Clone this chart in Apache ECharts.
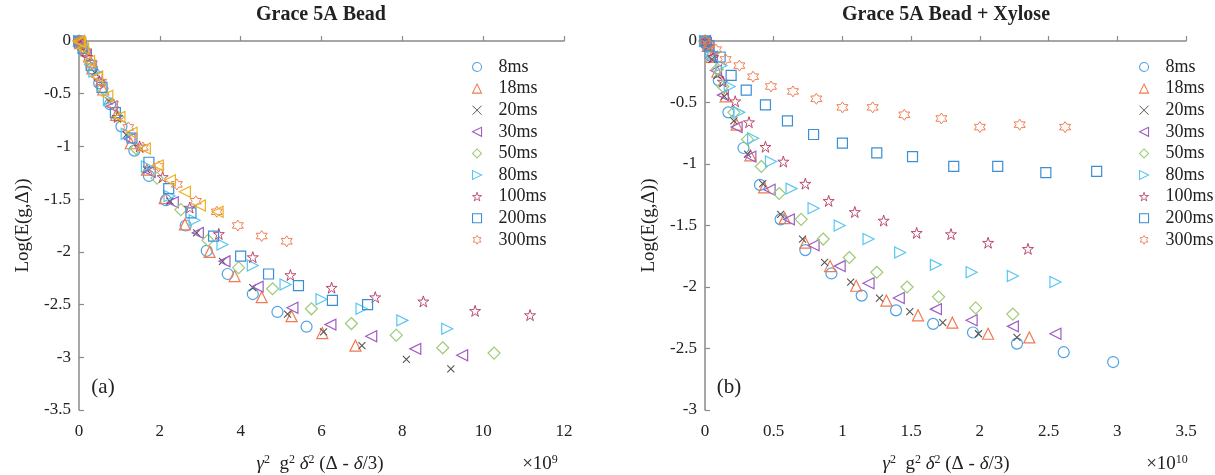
<!DOCTYPE html>
<html><head><meta charset="utf-8">
<script src="https://cdn.jsdelivr.net/npm/echarts@6/dist/echarts.min.js"></script>
<style>html,body{margin:0;padding:0;background:#fff}#c{width:1215px;height:475px}</style>
</head><body><div id="c"></div>
<script>
// ---- DATA (left: x in units of 1e9, right: x in units of 1e10) ----
const seriesNames = ['8ms','18ms','20ms','30ms','50ms','80ms','100ms','200ms','300ms'];
const xTicksLeft = [0,2,4,6,8,10,12];
const xTicksRight = [0,0.5,1,1.5,2,2.5,3,3.5];

const L8 = [[0,0],[0.05,-0.03],[0.15,-0.1],[0.32,-0.26],[0.5,-0.4],[0.77,-0.6],[1.05,-0.81],[1.37,-1.04],[1.73,-1.28],[2.15,-1.51],[2.64,-1.75],[3.16,-1.99],[3.68,-2.21],[4.3,-2.4],[4.91,-2.57],[5.63,-2.71]];
const L18 = [[0,0],[0.03,-0.02],[0.13,-0.09],[0.33,-0.26],[0.6,-0.46],[0.92,-0.7],[1.28,-0.97],[1.68,-1.22],[2.12,-1.49],[2.62,-1.74],[3.23,-2.0],[3.85,-2.23],[4.52,-2.43],[5.26,-2.61],[6.02,-2.77],[6.84,-2.89]];
const L20 = [[0,0],[0.02,-0.01],[0.14,-0.1],[0.39,-0.3],[0.74,-0.57],[1.17,-0.89],[1.67,-1.22],[2.25,-1.52],[2.91,-1.82],[3.55,-2.09],[4.3,-2.34],[5.16,-2.59],[6.05,-2.76],[7.0,-2.89],[8.1,-3.02],[9.2,-3.11]];
const L30 = [[0,0],[0.03,-0.02],[0.17,-0.13],[0.44,-0.34],[0.81,-0.62],[1.25,-0.93],[1.75,-1.24],[2.32,-1.53],[2.94,-1.82],[3.6,-2.09],[4.42,-2.33],[5.28,-2.53],[6.22,-2.69],[7.23,-2.8],[8.32,-2.92],[9.48,-2.98]];
const L50 = [[0,0],[0.08,-0.06],[0.28,-0.22],[0.58,-0.45],[0.96,-0.72],[1.41,-1.02],[1.93,-1.3],[2.52,-1.6],[3.19,-1.89],[3.95,-2.15],[4.79,-2.35],[5.75,-2.54],[6.74,-2.68],[7.85,-2.79],[9.0,-2.91],[10.27,-2.96]];
const L80 = [[0,0],[0.02,-0.01],[0.13,-0.09],[0.38,-0.29],[0.74,-0.56],[1.18,-0.88],[1.68,-1.19],[2.24,-1.47],[2.86,-1.7],[3.55,-1.93],[4.3,-2.13],[5.11,-2.31],[6.0,-2.45],[6.99,-2.54],[8.0,-2.65],[9.11,-2.73]];
const L100 = [[0,0],[0.05,-0.03],[0.2,-0.15],[0.5,-0.38],[0.95,-0.72],[1.5,-1.0],[2.07,-1.29],[2.74,-1.58],[3.46,-1.83],[4.3,-2.05],[5.23,-2.22],[6.25,-2.34],[7.33,-2.43],[8.52,-2.47],[9.8,-2.56],[11.16,-2.6]];
const L200 = [[0,0],[0.02,-0.01],[0.1,-0.07],[0.3,-0.23],[0.57,-0.44],[0.9,-0.68],[1.31,-0.92],[1.73,-1.15],[2.22,-1.4],[2.77,-1.63],[3.33,-1.85],[4.0,-2.04],[4.69,-2.21],[5.43,-2.32],[6.27,-2.46],[7.14,-2.5]];
const L300 = [[0,0],[0.04,-0.03],[0.15,-0.1],[0.32,-0.22],[0.55,-0.39],[0.84,-0.6],[1.22,-0.82],[1.58,-1.01],[1.97,-1.19],[2.42,-1.36],[2.89,-1.52],[3.41,-1.62],[3.93,-1.75],[4.52,-1.85],[5.14,-1.9]];
const LExtra = [[0,0],[0.02,-0.01],[0.1,-0.07],[0.25,-0.19],[0.45,-0.34],[0.7,-0.52],[1.0,-0.72],[1.3,-0.87],[1.63,-1.02],[1.95,-1.18],[2.25,-1.32],[2.62,-1.43],[2.99,-1.56],[3.43,-1.62]];

const R8 = [[0,0],[0.01,-0.03],[0.04,-0.12],[0.1,-0.32],[0.17,-0.58],[0.28,-0.87],[0.4,-1.17],[0.55,-1.45],[0.73,-1.7],[0.92,-1.89],[1.14,-2.07],[1.39,-2.19],[1.66,-2.3],[1.95,-2.37],[2.27,-2.46],[2.61,-2.53],[2.97,-2.61]];
const R18 = [[0,0],[0.02,-0.04],[0.05,-0.13],[0.09,-0.25],[0.15,-0.45],[0.23,-0.68],[0.33,-0.93],[0.43,-1.19],[0.58,-1.44],[0.73,-1.64],[0.91,-1.83],[1.1,-1.99],[1.32,-2.11],[1.55,-2.23],[1.8,-2.29],[2.06,-2.38],[2.36,-2.41]];
const R20 = [[0,0],[0.02,-0.05],[0.05,-0.15],[0.09,-0.28],[0.14,-0.45],[0.21,-0.65],[0.31,-0.92],[0.42,-1.16],[0.55,-1.41],[0.71,-1.61],[0.87,-1.8],[1.06,-1.96],[1.27,-2.09],[1.49,-2.2],[1.73,-2.29],[1.99,-2.38],[2.27,-2.41]];
const R30 = [[0,0],[0.02,-0.04],[0.05,-0.13],[0.08,-0.24],[0.13,-0.44],[0.23,-0.7],[0.33,-0.94],[0.47,-1.21],[0.61,-1.45],[0.79,-1.66],[0.98,-1.83],[1.19,-1.97],[1.41,-2.09],[1.68,-2.18],[1.94,-2.27],[2.24,-2.32],[2.55,-2.38]];
const R50 = [[0,0],[0.02,-0.04],[0.05,-0.12],[0.09,-0.23],[0.13,-0.37],[0.21,-0.58],[0.31,-0.8],[0.41,-1.02],[0.54,-1.24],[0.7,-1.45],[0.86,-1.61],[1.05,-1.76],[1.25,-1.88],[1.47,-2.0],[1.7,-2.08],[1.97,-2.17],[2.24,-2.22]];
const R80 = [[0,0],[0.06,-0.1],[0.12,-0.2],[0.18,-0.37],[0.25,-0.58],[0.35,-0.79],[0.48,-0.98],[0.63,-1.2],[0.79,-1.36],[0.98,-1.5],[1.19,-1.61],[1.42,-1.72],[1.68,-1.82],[1.94,-1.88],[2.24,-1.91],[2.55,-1.96]];
const R100 = [[0,0],[0.02,-0.04],[0.06,-0.13],[0.13,-0.33],[0.22,-0.49],[0.32,-0.66],[0.44,-0.86],[0.57,-0.98],[0.73,-1.16],[0.9,-1.3],[1.09,-1.39],[1.3,-1.46],[1.54,-1.56],[1.79,-1.57],[2.06,-1.64],[2.35,-1.69]];
const R200 = [[0,0],[0.01,-0.01],[0.03,-0.04],[0.11,-0.13],[0.19,-0.28],[0.3,-0.4],[0.44,-0.52],[0.6,-0.65],[0.79,-0.76],[1.0,-0.83],[1.25,-0.91],[1.51,-0.94],[1.81,-1.02],[2.13,-1.02],[2.48,-1.07],[2.85,-1.06]];
const R300 = [[0,0],[0.03,-0.03],[0.08,-0.07],[0.15,-0.15],[0.25,-0.2],[0.35,-0.29],[0.48,-0.37],[0.64,-0.41],[0.81,-0.47],[1.0,-0.54],[1.22,-0.54],[1.45,-0.6],[1.72,-0.63],[2.0,-0.7],[2.29,-0.68],[2.62,-0.7]];

// ---- STYLE ----
const FONT = '"Liberation Serif", "Times New Roman", serif';
const colors = {'8ms':'#4ea2e2','18ms':'#f07a52','20ms':'#555555','30ms':'#9f5cc2','50ms':'#9ccb78','80ms':'#58c6f2','100ms':'#b3365c','200ms':'#3a8fd6','300ms':'#ee7f52','extra':'#edb120'};
const CLEAR = 'rgba(255,255,255,0)';
const STAR = 'path://M50,0L61.2,34.5L97.6,34.5L68.2,55.9L79.4,90.5L50,69.1L20.6,90.5L31.8,55.9L2.4,34.5L38.8,34.5Z';
const HEX = 'path://M50,0L64.4,25L93.3,25L78.9,50L93.3,75L64.4,75L50,100L35.6,75L6.7,75L21.1,50L6.7,25L35.6,25Z';
const symbols = {
  '8ms':['circle',11,1.2], '18ms':['triangle',11,1.2], '20ms':['path://M0,0L10,10M10,0L0,10',7,1.1],
  '30ms':['path://M0,5L10,0L10,10Z',11,1.2], '50ms':['diamond',12,1.2], '80ms':['path://M10,5L0,0L0,10Z',11,1.2],
  '100ms':[STAR,11,0.9], '200ms':['rect',10,1.2], '300ms':[HEX,11,1.0], 'extra':['path://M0,5L10,0L10,10Z',11,1.2]
};
function mk(name, data, idx){
  const s = symbols[name];
  return {type:'scatter', name:name, xAxisIndex:idx, yAxisIndex:idx, data:data,
    symbol:s[0], symbolSize:s[1], silent:true,
    itemStyle:{color:CLEAR, borderColor:colors[name], borderWidth:s[2], opacity:1}};
}
const leftData = {'8ms':L8,'18ms':L18,'20ms':L20,'30ms':L30,'50ms':L50,'80ms':L80,'100ms':L100,'200ms':L200,'300ms':L300};
const rightData = {'8ms':R8,'18ms':R18,'20ms':R20,'30ms':R30,'50ms':R50,'80ms':R80,'100ms':R100,'200ms':R200,'300ms':R300};
const series = [];
seriesNames.forEach(n=>series.push(mk(n, leftData[n], 0)));
series.push(mk('extra', LExtra, 0));
seriesNames.forEach(n=>series.push(mk(n, rightData[n], 1)));

const axisLine = {show:true, lineStyle:{color:'#8a8a8a', width:1.5}};
const axisTick = {show:true, inside:true, length:5, lineStyle:{color:'#8a8a8a', width:1.2}};
const lab = {color:'#222', fontFamily:FONT, fontSize:17};
function xa(idx, max, interval){
  return {type:'value', gridIndex:idx, min:0, max:max, interval:interval, axisLine, axisTick, splitLine:{show:false},
    axisLabel:Object.assign({margin:13}, lab)};
}
function ya(idx, min){
  return {type:'value', gridIndex:idx, min:min, max:0, interval:0.5, axisLine, axisTick, splitLine:{show:false},
    axisLabel:Object.assign({margin:8}, lab),
    name:'Log(E(g,\u0394))', nameLocation:'middle', nameGap:46, nameRotate:90,
    nameTextStyle:{color:'#222', fontFamily:FONT, fontSize:19}};
}
function legend(left){
  return {orient:'vertical', left:left, top:53, itemWidth:9, itemHeight:9, itemGap:3.6,
    data:seriesNames.map(n=>({name:n, icon:symbols[n][0],
      itemStyle:{color:CLEAR, borderColor:colors[n], borderWidth:symbols[n][2]*0.9}})),
    selectedMode:false, textStyle:{color:'#222', fontFamily:FONT, fontSize:18, padding:[0,0,0,12], lineHeight:18}};
}
const rich = {a:{fontFamily:FONT, fontSize:19, color:'#222'}, i:{fontFamily:FONT, fontSize:19, fontStyle:'italic', color:'#222'},
  s:{fontFamily:FONT, fontSize:12, color:'#222', verticalAlign:'top', padding:[0,0,8,0]}};
const xname = '{i|\u03b3}{s|2}{a|  g}{s|2}{a| }{i|\u03b4}{s|2}{a| (\u0394 - }{i|\u03b4}{a|/3)}';
function txt(x,y,text,opt){
  return {type:'text', x:x, y:y, silent:true, style:Object.assign({text:text, fill:'#222', font:'18px '+FONT, align:'center', verticalAlign:'middle', textAlign:'center', textVerticalAlign:'middle'}, opt||{})};
}
const chart = echarts.init(document.getElementById('c'));
chart.setOption({
  animation:false,
  grid:[{left:79, top:41, width:485, height:369}, {left:705, top:41, width:481, height:369}],
  xAxis:[xa(0,12,2), xa(1,3.5,0.5)],
  yAxis:[ya(0,-3.5), ya(1,-3)],
  legend:[legend(467), legend(1134)],
  series:series,
  graphic:[
    txt(321,15,'Grace 5A Bead',{font:'bold 20px '+FONT}),
    txt(946,15,'Grace 5A Bead + Xylose',{font:'bold 20px '+FONT}),
    txt(103,387,'(a)',{font:'21px '+FONT}),
    txt(729,387,'(b)',{font:'21px '+FONT}),
    txt(320,464,xname,{rich:rich}),
    txt(946,464,xname,{rich:rich}),
    txt(540,464,'{a|\u00d710}{s|9}',{rich:rich}),
    txt(1167,464,'{a|\u00d710}{s|10}',{rich:rich})
  ]
});
</script></body></html>
